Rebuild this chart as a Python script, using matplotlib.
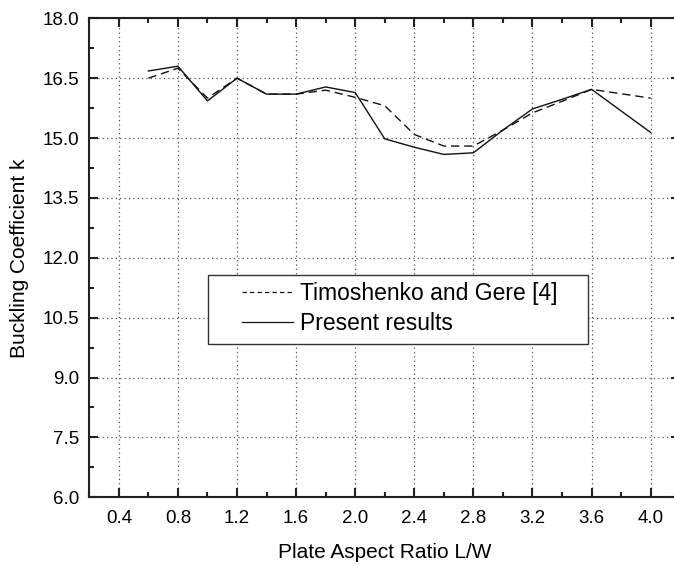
import matplotlib
matplotlib.use("Agg")
import matplotlib.pyplot as plt
from matplotlib.lines import Line2D
from matplotlib.patches import Rectangle
from matplotlib.ticker import MultipleLocator, FormatStrFormatter

plt.rcParams['font.family'] = ['Liberation Sans', 'DejaVu Sans']

aspect_ratio = [0.6, 0.8, 1.0, 1.2, 1.4, 1.6, 1.8, 2.0, 2.2, 2.4, 2.6, 2.8, 3.0, 3.2, 3.4, 3.6, 3.8, 4.0]
timoshenko = [16.50, 16.75, 16.00, 16.50, 16.10, 16.10, 16.20, 16.02, 15.81, 15.09, 14.80, 14.80,
              15.20, 15.63, 15.92, 16.22, 16.11, 16.00]
present = [16.68, 16.80, 15.93, 16.50, 16.10, 16.10, 16.28, 16.14, 14.98, 14.77, 14.59, 14.63,
           15.20, 15.73, 15.97, 16.22, 15.68, 15.14]

x_ticks = [0.4, 0.8, 1.2, 1.6, 2.0, 2.4, 2.8, 3.2, 3.6, 4.0]
labels = ["Timoshenko and Gere [4]", "Present results"]
xlabel = "Plate Aspect Ratio L/W"
ylabel = "Buckling Coefficient k"

W, H = 674, 564
fig = plt.figure(figsize=(W / 100, H / 100), dpi=100)
L, R, T, B = 89.3, 680.2, 18.3, 497.3
ax = fig.add_axes([L / W, 1 - B / H, (R - L) / W, (B - T) / H])

line_col = '#111111'
ax.plot(aspect_ratio, timoshenko, color=line_col, lw=1.0, dashes=(6, 3.5))
ax.plot(aspect_ratio, present, color=line_col, lw=1.0)

ax.set_xlim(0.2, 4.2)
ax.set_ylim(6.0, 18.0)
ax.set_xticks(x_ticks)
ax.set_xticklabels([f"{v:.1f}" for v in x_ticks])
ax.xaxis.set_minor_locator(MultipleLocator(0.2))
ax.yaxis.set_major_locator(MultipleLocator(1.5))
ax.yaxis.set_minor_locator(MultipleLocator(0.75))
ax.yaxis.set_major_formatter(FormatStrFormatter('%.1f'))

ax.grid(True, which='major', color='#555555', linestyle=(0, (1, 2.5)), linewidth=0.9)

for s in ax.spines.values():
    s.set_linewidth(1.5)
    s.set_color('#222222')
ax.tick_params(which='both', direction='in', top=True, right=True, width=1.5, color='#222222',
               labelsize=13.5)
ax.tick_params(axis='x', which='both', pad=9)
ax.tick_params(axis='y', which='both', pad=7)
ax.tick_params(which='major', length=6.5)
ax.tick_params(which='minor', length=3.5)

ax.set_xlabel(xlabel, fontsize=15, labelpad=12)
ax.set_ylabel(ylabel, fontsize=15, labelpad=10)

# legend frame
lx0, lx1, ly0, ly1 = 208.3, 588.3, 275, 344
def ax_frac(px, py):
    return ((px - L) / (R - L), (B - py) / (B - T))
x0, y1 = ax_frac(lx0, ly0)
x1, y0 = ax_frac(lx1, ly1)
ax.add_patch(Rectangle((x0, y0), x1 - x0, y1 - y0, transform=ax.transAxes,
                       facecolor='white', edgecolor='#333333', lw=1.0, zorder=4))
handles = [Line2D([], [], color=line_col, lw=0.9, dashes=(3.5, 2.5)),
           Line2D([], [], color=line_col, lw=0.9)]
ax.legend(handles, labels, loc='upper left', bbox_to_anchor=ax_frac(241.6, 282),
          frameon=False, fontsize=16.5, borderpad=0, borderaxespad=0, handlelength=2.25,
          handletextpad=0.3, labelspacing=0.3).set_zorder(5)

fig.savefig("out.png", dpi=100)
